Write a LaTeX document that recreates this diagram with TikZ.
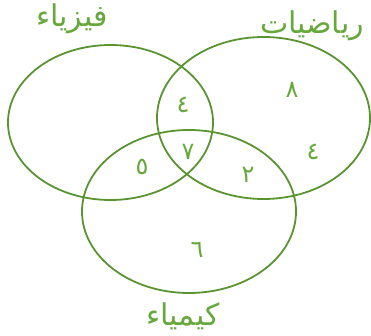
\documentclass[tikz,border=0pt]{standalone}
\usepackage{fontspec}
\newfontfamily\arabicfont[Script=Arabic]{DejaVu Sans}
\TeXXeTstate=1
\definecolor{venngreen}{RGB}{90,148,48}
\definecolor{textgreen}{RGB}{102,168,60}
\begin{document}
\begin{tikzpicture}[x=1pt,y=-1pt,every node/.style={text=textgreen,inner sep=0pt}]
 \useasboundingbox (0,0) rectangle (371,336);
 \coordinate (P) at (110.5,122.5); \coordinate (M) at (263.5,118); \coordinate (C) at (189,211.5);
 \draw[venngreen,line width=1.8pt] (P) ellipse [x radius=102.5pt, y radius=77.5pt];
 \draw[venngreen,line width=1.8pt] (M) ellipse [x radius=106.5pt, y radius=81pt];
 \draw[venngreen,line width=1.8pt] (C) ellipse [x radius=107pt, y radius=81.5pt];
 \node[font=\arabicfont\fontsize{30}{34}\selectfont] (phys) at (72,19) {\beginR فيزياء\endR};
 \node[font=\arabicfont\fontsize{30}{34}\selectfont] (math) at (312,26) {\beginR رياضيات\endR};
 \node[font=\arabicfont\fontsize{30}{34}\selectfont] (chem) at (183,316) {\beginR كيمياء\endR};
 \node[font=\arabicfont\fontsize{24}{28}\selectfont] (pm) at (183,105) {٤};
 \node[font=\arabicfont\fontsize{24}{28}\selectfont] (m) at (292,90) {٨};
 \node[font=\arabicfont\fontsize{24}{28}\selectfont] (m2) at (313,152) {٤};
 \node[font=\arabicfont\fontsize{24}{28}\selectfont] (pmc) at (188,152) {٧};
 \node[font=\arabicfont\fontsize{24}{28}\selectfont] (pc) at (142,167) {٥};
 \node[font=\arabicfont\fontsize{24}{28}\selectfont] (mc) at (248,175) {٢};
 \node[font=\arabicfont\fontsize{24}{28}\selectfont] (c) at (197,250) {٦};
\end{tikzpicture}
\end{document}
